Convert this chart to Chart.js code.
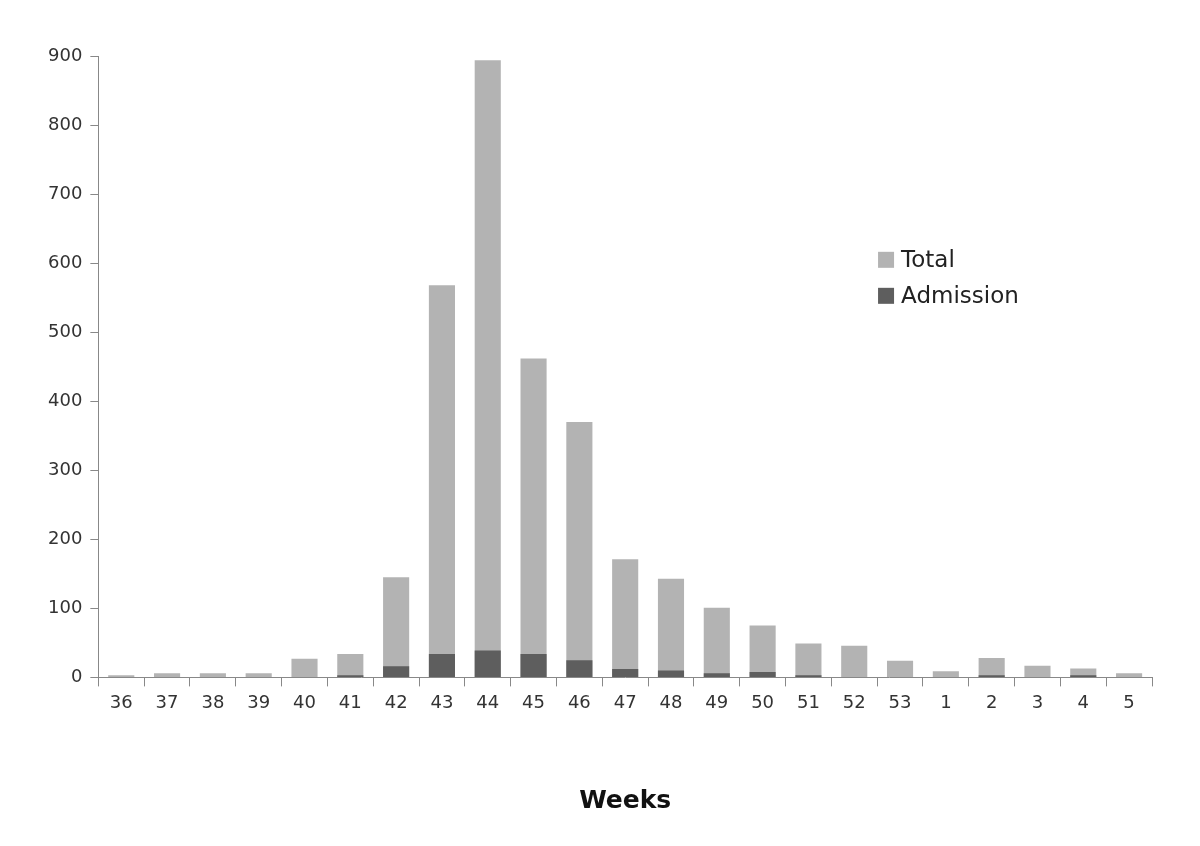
<!DOCTYPE html>
<html>
<head>
<meta charset="utf-8">
<script src="https://cdn.jsdelivr.net/npm/chart.js@4"></script>
<style>
  body { margin: 0; background: #fff; }
  #wrap { width: 1200px; height: 846px; }
</style>
</head>
<body>
<div id="wrap"><canvas id="myChart" width="1200" height="846"></canvas></div>
<script>
const weeks = ["36","37","38","39","40","41","42","43","44","45","46","47","48","49","50","51","52","53","1","2","3","4","5"];
const total = [3, 6, 6, 6, 27, 34, 145, 568, 894, 462, 370, 171, 143, 101, 75, 49, 46, 24, 9, 28, 17, 13, 6];
const admission = [0, 0, 0, 0, 0, 3, 16, 34, 39, 34, 25, 12, 10, 6, 8, 3, 0, 0, 0, 3, 0, 3, 0];
const yTicks = [0, 100, 200, 300, 400, 500, 600, 700, 800, 900];

const FONT = "'DejaVu Sans', sans-serif";

// legend drawn inside the plot, like the original
const insideLegend = {
  id: "insideLegend",
  afterDraw(chart) {
    const ctx = chart.ctx;
    const a = chart.chartArea;
    const x = a.left + (a.right - a.left) * 0.74;
    let y = a.top + (a.bottom - a.top) * 0.328;
    ctx.save();
    ctx.font = "23px " + FONT;
    ctx.textBaseline = "middle";
    chart.data.datasets.forEach((ds) => {
      ctx.fillStyle = ds.backgroundColor;
      ctx.fillRect(x, y - 8, 16, 16);
      ctx.fillStyle = "#222";
      ctx.fillText(ds.label, x + 23, y + 1);
      y += 36;
    });
    ctx.restore();
  }
};

const ctx = document.getElementById("myChart").getContext("2d");
const myChart = new Chart(ctx, {
  type: "bar",
  data: {
    labels: weeks,
    datasets: [
      { label: "Total", data: total, backgroundColor: "#b3b3b3", order: 1,
        barPercentage: 0.57, categoryPercentage: 1 },
      { label: "Admission", data: admission, backgroundColor: "#5e5e5e", order: 0,
        barPercentage: 0.57, categoryPercentage: 1 }
    ]
  },
  options: {
    responsive: false,
    animation: false,
    layout: { padding: { left: 40, right: 48, top: 56, bottom: 26 } },
    scales: {
      x: {
        stacked: true,
        offset: true,
        grid: { display: true, drawOnChartArea: false, offset: true, tickLength: 9, color: "#888" },
        border: { color: "#888" },
        ticks: { color: "#333", font: { family: FONT, size: 18 }, padding: 6, maxRotation: 0, autoSkip: false },
        title: { display: true, text: "Weeks", color: "#111",
          font: { family: FONT, size: 25, weight: "bold" }, padding: { top: 66 } }
      },
      y: {
        stacked: false,
        min: 0, max: 900,
        afterBuildTicks: (axis) => { axis.ticks = yTicks.map((v) => ({ value: v })); },
        grid: { display: true, drawOnChartArea: false, tickLength: 8, color: "#888" },
        border: { color: "#888" },
        ticks: { color: "#333", font: { family: FONT, size: 18 }, padding: 8 }
      }
    },
    plugins: {
      legend: { display: false },
      tooltip: { enabled: false }
    }
  },
  plugins: [insideLegend]
});
</script>
</body>
</html>
